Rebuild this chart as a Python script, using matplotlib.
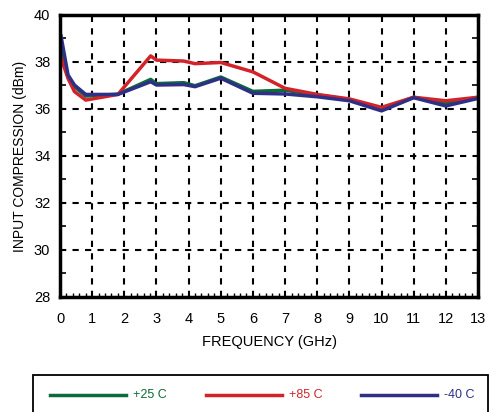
import numpy as np
import matplotlib
matplotlib.use("Agg")
import matplotlib.pyplot as plt
from matplotlib.patches import Rectangle
from matplotlib.lines import Line2D
from matplotlib.ticker import MultipleLocator

plt.rcParams['font.family'] = ['Liberation Sans', 'DejaVu Sans']

# data
freq = [0.03, 0.25, 0.45, 0.8, 1.8, 2.82, 3.0, 3.85, 4.2, 5.0, 6.0, 7.0, 8.0, 9.0, 10.0, 11.0, 12.0, 13.0]
p25 = [38.7, 37.35, 36.95, 36.55, 36.63, 37.26, 37.08, 37.12, 36.99, 37.36, 36.75, 36.8, 36.6, 36.4, 36.0, 36.5, 36.22, 36.5]
p85 = [38.18, 37.3, 36.74, 36.38, 36.62, 38.26, 38.08, 38.04, 37.93, 37.98, 37.58, 36.88, 36.62, 36.43, 36.07, 36.5, 36.35, 36.5]
m40 = [39.12, 37.45, 37.02, 36.62, 36.62, 37.16, 37.02, 37.04, 36.95, 37.31, 36.67, 36.64, 36.52, 36.35, 35.92, 36.48, 36.13, 36.45]

series = [("+25 C", p25, "#0b6b3a"),
          ("+85 C", p85, "#d2232a"),
          ("-40 C", m40, "#2e3087")]

W, H = 490, 412
fig = plt.figure(figsize=(W/100, H/100), dpi=100)
ax = fig.add_axes([60/W, 1-297/H, 418/W, 282/H])

for name, vals, col in series:
    ax.plot(freq, vals, color=col, lw=2.5, solid_joinstyle='round')

ax.set_xlim(0, 13)
ax.set_ylim(28, 40)
ax.set_xticks(range(0, 14))
ax.set_yticks(range(28, 41, 2))
ax.xaxis.set_minor_locator(MultipleLocator(0.2))
ax.yaxis.set_minor_locator(MultipleLocator(1))
ax.grid(True, which='major', color='black', ls=(0, (3, 3)), lw=1.5)
ax.tick_params(which='major', direction='in', length=0, labelsize=10.5)
ax.tick_params(axis='x', which='major', pad=11)
ax.tick_params(axis='y', which='major', pad=7)
ax.tick_params(axis='x', which='minor', direction='in', length=3, width=1, top=False)
ax.tick_params(axis='y', which='minor', direction='in', length=4, width=1.2, right=True)
for sp in ax.spines.values():
    sp.set_linewidth(2.5)

ax.set_xlabel("FREQUENCY (GHz)", fontsize=10.5, labelpad=6)
ax.set_ylabel("INPUT COMPRESSION (dBm)", fontsize=10, labelpad=5)

# legend box at bottom, runs off the image
fig.patches.append(Rectangle((33/W, -0.05), (488-33)/W, 1-375/H+0.05, transform=fig.transFigure,
                             fill=False, edgecolor='black', lw=1.3))
x0s = [50, 206, 361]
for (name, vals, col), x0 in zip(series, x0s):
    yy = 1-395/H
    fig.lines.append(Line2D([x0/W, (x0+76)/W], [yy, yy], transform=fig.transFigure, color=col, lw=2.5))
    fig.text((x0+83)/W, yy, name, color=col, fontsize=9, va='center', ha='left')

fig.savefig("out.png", dpi=100)
